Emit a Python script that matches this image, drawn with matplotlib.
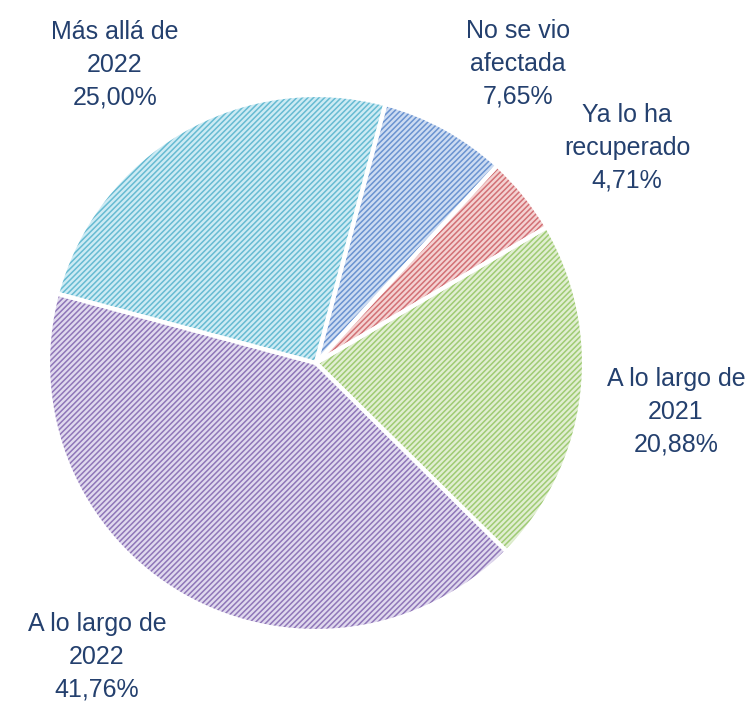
import matplotlib.pyplot as plt

# data
labels = ['No se vio\nafectada', 'Ya lo ha\nrecuperado', 'A lo largo de\n2021',
          'A lo largo de\n2022', 'Más allá de\n2022']
values = [7.65, 4.71, 20.88, 41.76, 25.00]

face_colors = ['#cddcf2', '#f4d2d2', '#e1eed2', '#e0d9ee', '#cdebf4']
hatch_colors = ['#6a93d0', '#d27075', '#9fcb74', '#8f76b8', '#67bbd2']

# label centres (pixels, y from top)
label_pos = [(518, 64), (627, 148), (676, 412), (97, 657), (115, 65)]

plt.rcParams['font.family'] = ['Liberation Sans', 'DejaVu Sans']
plt.rcParams['hatch.linewidth'] = 1.1

W, H = 756, 707
fig = plt.figure(figsize=(W / 100, H / 100), dpi=100)
ax = fig.add_axes([0, 0, 1, 1])

center = (316, H - 363)
radius = 268

wedges, _ = ax.pie(values, startangle=75, counterclock=False,
                   center=center, radius=radius, frame=True)
for w, fc, hc in zip(wedges, face_colors, hatch_colors):
    w.set_facecolor(fc)
    w.set_edgecolor(hc)
    w.set_hatch('//////')
    w.set_linewidth(0)

# white separators on top
ax.pie(values, startangle=75, counterclock=False,
       center=center, radius=radius, frame=True,
       wedgeprops=dict(fill=False, edgecolor='white', linewidth=3))

ax.set_xlim(0, W)
ax.set_ylim(0, H)
ax.set_aspect('equal')
ax.axis('off')

for lab, v, (x, y) in zip(labels, values, label_pos):
    txt = lab + '\n' + ('%.2f' % v).replace('.', ',') + '%'
    ax.text(x, H - y, txt, ha='center', va='center', fontsize=18,
            color='#24406e', linespacing=1.47)

plt.savefig('out.png', dpi=100)
